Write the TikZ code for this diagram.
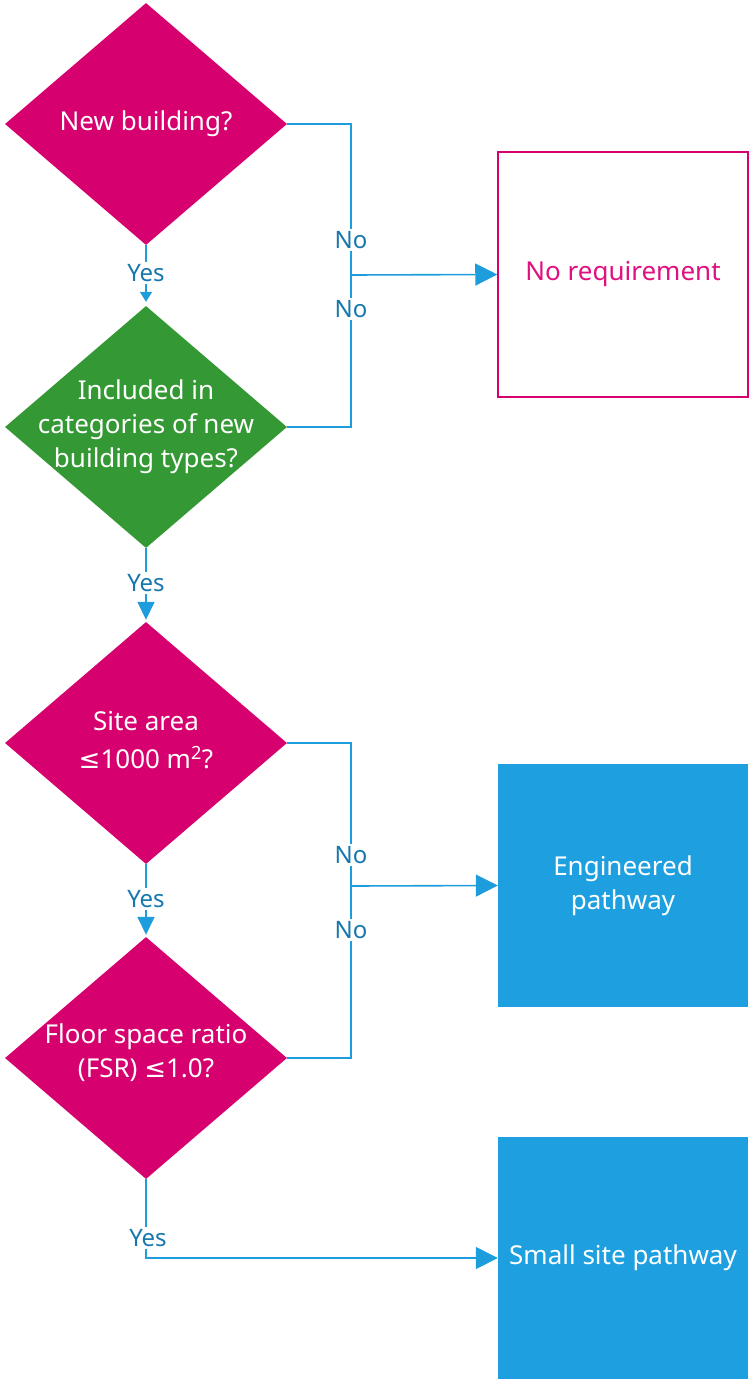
\documentclass[tikz,border=0pt]{standalone}
\usepackage{fontspec}
\setmainfont{Noto Sans}
\newfontfamily\symfont{DejaVu Sans}
\newcommand{\leqsym}{{\symfont ≤}}
\usetikzlibrary{shapes.geometric,arrows.meta}
\definecolor{magentaA}{RGB}{214,0,111}
\definecolor{greenA}{RGB}{52,153,52}
\definecolor{blueBox}{RGB}{30,160,224}
\definecolor{lineBlue}{RGB}{29,157,219}
\definecolor{labelBlue}{RGB}{22,120,172}
\definecolor{reqText}{RGB}{224,16,128}
\begin{document}
\begin{tikzpicture}[x=1pt,y=-1pt,
  font=\fontsize{26}{34}\selectfont,
  decision/.style={diamond, inner sep=0pt, minimum width=282pt, minimum height=242pt},
  qtext/.style={text=white, align=center, inner sep=0pt},
  outbox/.style={rectangle, inner sep=0pt, minimum width=250pt, align=center},
  conn/.style={draw=lineBlue, line width=1.6pt},
  bigtip/.style={-{Triangle[length=22pt,width=22pt]}},
  smalltip/.style={-{Triangle[length=18pt,width=17pt]}, shorten >=2pt},
  tinytip/.style={-{Triangle[length=10pt,width=12pt]}, shorten >=4pt},
  lbl/.style={fill=white, text=labelBlue, inner sep=2pt, font=\fontsize{24}{30}\selectfont}]
\useasboundingbox (0,0) rectangle (750,1379);

% decisions
\node[decision, fill=magentaA, label={[qtext]center:New building?}] (d1) at (146,124) {};
\node[decision, fill=greenA, label={[qtext]center:{Included in\\categories of new\\building types?}}] (d2) at (146,427) {};
\node[decision, fill=magentaA, label={[qtext, yshift=3pt]center:{Site area\\[4pt]\leqsym1000 m\textsuperscript{2}?}}] (d3) at (146,743) {};
\node[decision, fill=magentaA, label={[qtext, yshift=5pt]center:{Floor space ratio\\(FSR) \leqsym1.0?}}] (d4) at (146,1058) {};

% outcomes
\node[outbox, draw=magentaA, line width=1.5pt, minimum height=245pt, text=reqText] (box1) at (623,274.5) {No requirement};
\node[outbox, fill=blueBox, minimum height=243pt, text=white] (box2) at (623,885.5) {Engineered\\pathway};
\node[outbox, fill=blueBox, minimum height=242pt, text=white] (box3) at (623,1258) {Small site pathway};

% junctions on the "No" branches
\coordinate (j1) at (351,275);
\coordinate (j2) at (351,886);

% connectors
\draw[conn] (d1.east) -| (j1);
\draw[conn] (d2.east) -| (j1);
\draw[conn, bigtip] (j1) -- (box1.west);
\draw[conn] (d3.east) -| (j2);
\draw[conn] (d4.east) -| (j2);
\draw[conn, bigtip] (j2) -- (box2.west);
\draw[conn, tinytip] (d1.south) -- (d2.north);
\draw[conn, smalltip] (d2.south) -- (d3.north);
\draw[conn, smalltip] (d3.south) -- (d4.north);
\draw[conn, bigtip] (d4.south) |- (box3.west);

% branch labels
\node[lbl] (n1) at (351,240) {No};
\node[lbl] (n2) at (351,309) {No};
\node[lbl] (n3) at (351,855) {No};
\node[lbl] (n4) at (351,930) {No};
\node[lbl] (y1) at (146,273) {Yes};
\node[lbl] (y2) at (146,583) {Yes};
\node[lbl] (y3) at (146,899) {Yes};
\node[lbl] (y4) at (148,1238) {Yes};
\end{tikzpicture}
\end{document}
